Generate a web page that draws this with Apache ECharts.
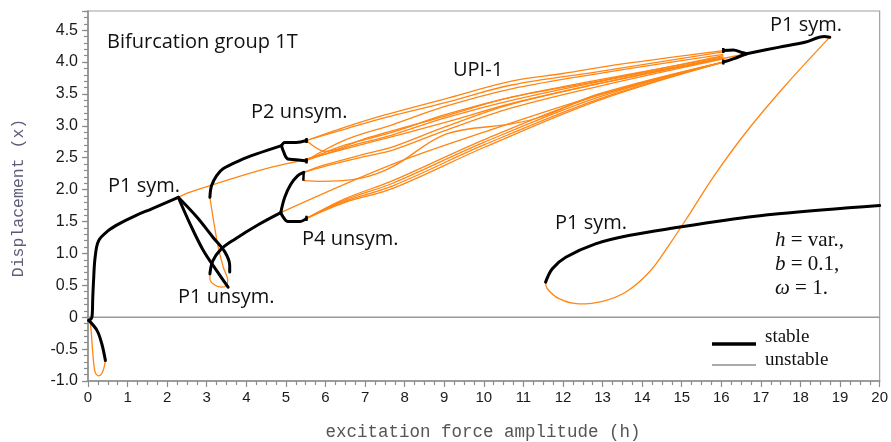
<!DOCTYPE html>
<html><head><meta charset="utf-8">
<script src="https://cdn.jsdelivr.net/npm/echarts@6/dist/echarts.min.js"></script>
<style>html,body{margin:0;padding:0;background:#fff}#c{width:891px;height:442px}</style>
</head><body><div id="c"></div>
<script>
// ---- axis ticks ----
var xTicks = [0,1,2,3,4,5,6,7,8,9,10,11,12,13,14,15,16,17,18,19,20];
var yTicks = [-1.0,-0.5,0,0.5,1.0,1.5,2.0,2.5,3.0,3.5,4.0,4.5];
var zeroLine = [[0,0],[20,0]];

// ---- stable (black) branches ----
var stP1symLeft = [[0.02,-0.05],[0.1,0.0],[0.12,0.3],[0.14,0.57],[0.18,0.94],[0.27,1.2],[0.52,1.36],[0.77,1.46],[1.19,1.59],[1.61,1.70],[2.28,1.88]];
var stP1symNeg = [[0.02,-0.05],[0.23,-0.21],[0.35,-0.42],[0.44,-0.68]];
var stP1unsymA = [[2.28,1.88],[2.58,1.46],[2.91,1.05],[3.25,0.73],[3.54,0.47]];
var stP1unsymB = [[2.28,1.88],[2.75,1.57],[3.16,1.25],[3.46,1.02],[3.58,0.81],[3.58,0.71]];
var stP2stem = [[3.08,1.88],[3.12,2.06],[3.25,2.22],[3.42,2.33],[3.84,2.46],[4.26,2.56],[4.89,2.69]];
var stP2up = [[4.89,2.69],[4.97,2.74],[5.26,2.74],[5.52,2.77]];
var stP2lo = [[4.89,2.69],[4.93,2.61],[5.05,2.48],[5.26,2.47],[5.52,2.45]];
var stP4stem = [[3.08,0.68],[3.15,0.88],[3.35,1.06],[3.7,1.22],[4.3,1.45],[4.87,1.64]];
var stP4up = [[4.87,1.64],[4.97,1.88],[5.12,2.08],[5.3,2.22],[5.45,2.27]];
var stP4lo = [[4.87,1.64],[4.93,1.57],[5.05,1.50],[5.35,1.50],[5.52,1.55]];
var stRightUp = [[16.05,4.18],[16.3,4.19],[16.52,4.15],[16.64,4.13]];
var stRightLo = [[16.05,4.0],[16.3,4.05],[16.64,4.13]];
var stP1symTop = [[16.64,4.13],[17.44,4.23],[18.11,4.31],[18.6,4.40],[18.74,4.39]];
var stP1symLow = [[11.56,0.55],[11.73,0.76],[12.07,0.94],[12.82,1.15],[13.66,1.28],[14.92,1.41],[16.1,1.52],[17.44,1.62],[20,1.75]];
// small end marks of the bracket branches
var endMarks = [
  [[5.52,2.73],[5.52,2.81]], [[5.52,2.41],[5.52,2.49]],
  [[5.44,2.14],[5.45,2.28]], [[5.52,1.51],[5.52,1.59]],
  [[16.05,4.14],[16.05,4.22]], [[16.05,3.96],[16.05,4.04]]
];

// ---- unstable (orange) branches ----
var unP1symNeg = [[0.44,-0.68],[0.40,-0.80],[0.35,-0.88],[0.27,-0.92],[0.18,-0.86],[0.12,-0.55],[0.08,-0.21],[0.05,-0.03]];
var unP1symMid = [[2.28,1.88],[2.58,1.96],[4.34,2.30],[5.52,2.48],[7,2.72],[9,3.05],[10.7,3.35],[12.9,3.66],[16.64,4.13]];
var unLoopLeft = [[3.08,1.88],[3.17,1.52],[3.29,1.10],[3.42,0.78],[3.53,0.58],[3.50,0.50],[3.38,0.47],[3.21,0.50],[3.08,0.60],[3.08,0.68]];
var unP1symRight = [[18.74,4.39],[17.6,3.62],[16.6,2.88],[15.8,2.2],[15.2,1.62],[14.7,1.15],[14.2,0.72],[13.6,0.40],[13.0,0.25],[12.4,0.21],[11.9,0.29],[11.6,0.45],[11.56,0.55]];
var unB1 = [[5.52,2.77],[6.5,2.98],[7.5,3.17],[9.0,3.42],[10.7,3.70],[12.0,3.82],[13.5,3.97],[16.05,4.18]];
var unB2 = [[5.52,2.77],[6.5,2.95],[7.5,3.13],[9.0,3.36],[10.7,3.64],[12.9,3.85],[16.05,4.16]];
var unB3 = [[5.52,2.77],[6.0,2.60],[7.0,2.80],[9.0,3.15],[10.7,3.45],[12.9,3.70],[16.05,4.10]];
var unB4 = [[5.52,2.46],[6.5,2.78],[7.7,3.02],[9.0,3.3],[10.7,3.58],[12.9,3.82],[16.05,4.12]];
var unB5 = [[5.52,2.46],[6.5,2.70],[7.7,2.90],[9.0,3.17],[10.7,3.45],[12.9,3.72],[16.05,4.08]];
var unB6 = [[5.52,2.46],[6.5,2.66],[7.7,2.86],[9.0,3.12],[10.7,3.40],[12.9,3.69],[16.05,4.06]];
var unB7 = [[5.45,2.27],[6.0,2.37],[7.0,2.52],[7.7,2.62],[9.0,2.92],[10.7,3.28],[12.9,3.62],[16.05,4.05]];
var unB7b = [[5.45,2.27],[6.0,2.39],[7.0,2.56],[7.7,2.67],[9.0,2.98],[10.7,3.34],[12.9,3.66],[16.05,4.07]];
var unB8 = [[5.45,2.14],[5.85,2.13],[6.9,2.18],[7.7,2.36],[9.04,2.87],[10.7,3.03],[11.5,3.15],[12.9,3.50],[16.05,4.0]];
var unB9 = [[4.87,1.64],[7.7,2.40],[10.0,2.90],[12.9,3.48],[16.05,4.0]];
var unB10 = [[5.52,1.55],[6.5,1.86],[7.7,2.14],[10.0,2.78],[12.9,3.48],[16.05,4.0]];
var unB11 = [[5.52,1.55],[6.5,1.84],[7.7,2.10],[10.0,2.74],[12.9,3.45],[16.05,4.0]];
var unB12 = [[5.52,1.55],[6.5,1.82],[7.7,2.06],[10.0,2.70],[12.9,3.42],[16.05,4.0]];
var unB13 = [[5.52,1.55],[6.5,1.80],[7.7,2.02],[10.0,2.66],[12.9,3.40],[16.05,4.0]];

// ---- labels ----
var titleText = 'Bifurcation group 1T';
var branchLabels = ['P1 sym.','P2 unsym.','P4 unsym.','P1 unsym.','UPI-1','P1 sym.','P1 sym.'];
var legendLabels = ['stable','unstable'];
var xName = 'excitation force amplitude (h)';
var yName = 'Displacement (x)';

var ORANGE = '#FF8614';
var stable = [stP1symLeft,stP1symNeg,stP1unsymA,stP1unsymB,stP2stem,stP2up,stP2lo,stP4stem,stP4up,stP4lo,stRightUp,stRightLo,stP1symTop,stP1symLow];
var unstable = [unP1symNeg,unP1symMid,unLoopLeft,unP1symRight,unB1,unB2,unB3,unB4,unB5,unB6,unB7,unB7b,unB8,unB9,unB10,unB11,unB12,unB13];

var series = [{type:'line',data:zeroLine,showSymbol:false,silent:true,lineStyle:{color:'#9a9a9a',width:1.5},z:1}];
unstable.forEach(function(d){series.push({type:'line',data:d,showSymbol:false,smooth:0.35,lineStyle:{color:ORANGE,width:1.3},z:2});});
stable.forEach(function(d){series.push({type:'line',data:d,showSymbol:false,smooth:0.35,lineStyle:{color:'#000',width:3,cap:'round',join:'round'},z:3});});
endMarks.forEach(function(d){series.push({type:'line',data:d,showSymbol:false,lineStyle:{color:'#000',width:2.5},z:3});});

var GL=88, GT=11, GR=9, GB=61;
var sans = '"Open Sans", sans-serif';
function txt(t,x,y){return {type:'text',x:x,y:y,style:{text:t,font:'20px '+sans,fill:'#111',textVerticalAlign:'middle'}};}
var serifRich = {i:{fontFamily:'"Liberation Serif", serif',fontStyle:'italic',fontSize:21,fill:'#111'},n:{fontFamily:'"Liberation Serif", serif',fontSize:21,fill:'#111'}};

var chart = echarts.init(document.getElementById('c'),null,{renderer:'canvas'});
chart.setOption({
  animation:false,
  grid:{left:GL,top:GT,right:GR,bottom:GB,show:true,borderColor:'#a0a0a0',borderWidth:1.2},
  xAxis:{type:'value',min:xTicks[0],max:xTicks[xTicks.length-1],interval:1,
    axisLine:{onZero:false,lineStyle:{color:'#8c8c8c',width:1.5}},
    axisTick:{length:6,lineStyle:{color:'#8c8c8c',width:1.2}},
    minorTick:{show:true,splitNumber:4,length:4,lineStyle:{color:'#8c8c8c',width:1.2}},
    splitLine:{show:false},
    axisLabel:{color:'#1a1a1a',fontSize:15,fontFamily:'"Liberation Sans", Arial',margin:9}},
  yAxis:[{type:'value',min:yTicks[0],max:4.8,interval:0.5,
    axisLine:{onZero:false,lineStyle:{color:'#8c8c8c',width:1.5}},
    axisTick:{length:6,lineStyle:{color:'#8c8c8c',width:1.2}},
    splitLine:{show:false},
    axisLabel:{color:'#1a1a1a',fontSize:16,fontFamily:'"Liberation Sans", Arial',margin:10,
      formatter:function(v){ if(v>4.6) return ''; return v===0?'0':v.toFixed(1);} }},
    {type:'value',min:yTicks[0],max:4.8,interval:0.1,position:'left',
     axisLine:{show:false},axisTick:{length:4,lineStyle:{color:'#8c8c8c',width:1.2}},
     axisLabel:{show:false},splitLine:{show:false}}],
  series:series,
  graphic:[
    txt(titleText,107,42),
    txt(branchLabels[0],108,186),
    txt(branchLabels[1],251,112),
    txt(branchLabels[2],302,239),
    txt(branchLabels[3],178,297),
    txt(branchLabels[4],453,70),
    txt(branchLabels[5],555,223),
    txt(branchLabels[6],770,25),
    {type:'text',x:775,y:240,style:{rich:serifRich,text:'{i|h}{n| = var.,}',textVerticalAlign:'middle'}},
    {type:'text',x:775,y:264,style:{rich:serifRich,text:'{i|b}{n| = 0.1,}',textVerticalAlign:'middle'}},
    {type:'text',x:775,y:288,style:{rich:serifRich,text:'{i|ω}{n| = 1.}',textVerticalAlign:'middle'}},
    {type:'line',shape:{x1:712,y1:344,x2:756,y2:344},style:{stroke:'#000',lineWidth:3.5}},
    {type:'line',shape:{x1:712,y1:365,x2:756,y2:365},style:{stroke:'#aaaaaa',lineWidth:2}},
    {type:'text',x:765,y:337,style:{text:legendLabels[0],font:'19px "Liberation Serif", serif',fill:'#111',textVerticalAlign:'middle'}},
    {type:'text',x:765,y:360,style:{text:legendLabels[1],font:'19px "Liberation Serif", serif',fill:'#111',textVerticalAlign:'middle'}},
    {type:'text',x:483,y:432,style:{text:xName,font:'17.5px "Liberation Mono", monospace',fill:'#555',textAlign:'center',textVerticalAlign:'middle'}},
    {type:'text',x:19,y:198,rotation:Math.PI/2,style:{text:yName,font:'16.5px "Liberation Mono", monospace',fill:'#5c5c7a',textAlign:'center',textVerticalAlign:'middle'}}
  ]
});
</script></body></html>
